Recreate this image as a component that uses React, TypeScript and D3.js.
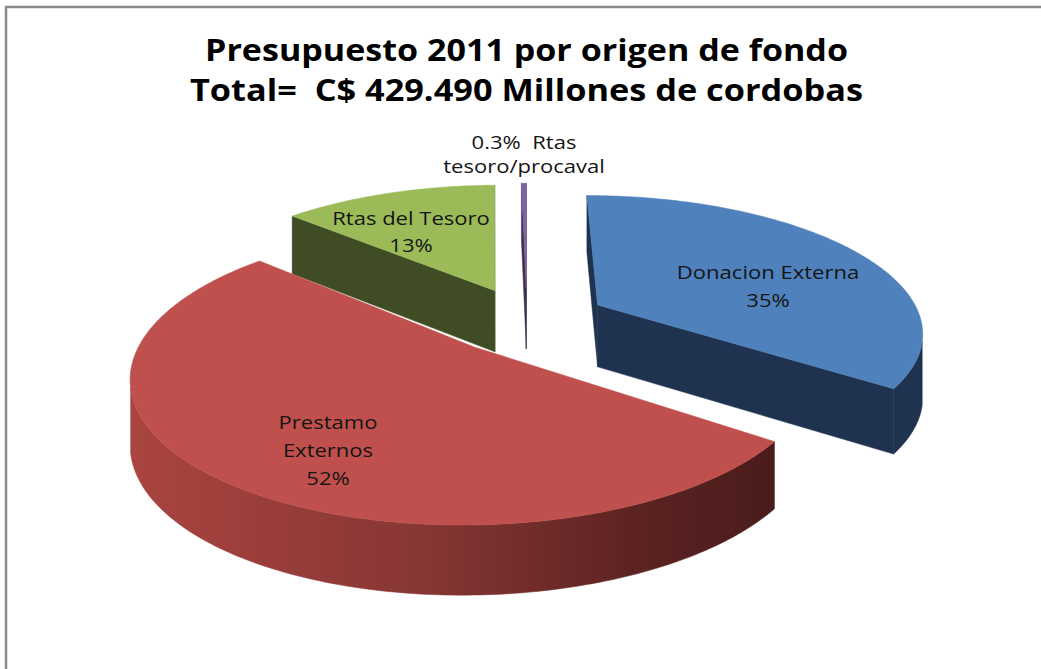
//@ts-nocheck
import React, { useRef, useEffect } from 'react'
import * as d3 from 'd3'

const categories = ['Donacion Externa', 'Prestamo Externos', 'Rtas del Tesoro', 'Rtas tesoro/procaval']
const shares = [35, 52, 13, 0.3]
const labelLines = [
  ['Donacion Externa', '35%'],
  ['Prestamo', 'Externos', '52%'],
  ['Rtas del Tesoro', '13%'],
  ['0.3%  Rtas', 'tesoro/procaval']
]
const titleLines = ['Presupuesto 2011 por origen de fondo', 'Total=  C$ 429.490 Millones de cordobas']

const topColors = ['#4F81BD', '#C0504D', '#9BBB59', '#8064A2']
const sideColors = ['#1F3350', 'url(#redSide)', '#3F4C24', '#3F3151']

// layout (label anchors are screen positions of the first line)
const labelPos = [
  [768, 272],
  [328, 422],
  [411, 218],
  [524, 142]
]
const labelGap = [28, 28, 27, 24]

const W = 1041
const H = 669
const cx = 527
const cy = 320
const S = 324
const K = 5
const KD = 10
const tilt = (24.5 * Math.PI) / 180
const depth = 0.212
const explode = 0.25

// perspective projection of a point on the pie (radius 1), Y up, Z away from viewer
function project(X, Y, Z) {
  const den = K + Z * Math.cos(tilt)
  const sx = cx + (S * K * X) / den
  const sy = cy - (S * K * Z * Math.sin(tilt)) / den - (S * Y * Math.cos(tilt) * KD) / (KD + Z * Math.cos(tilt))
  return [sx, sy]
}

const App = () => {
  const node = useRef(null)

  useEffect(() => {
    const svg = d3.select(node.current)
    svg.selectAll('*').remove()

    const grad = svg
      .append('defs')
      .append('linearGradient')
      .attr('id', 'redSide')
      .attr('gradientUnits', 'userSpaceOnUse')
      .attr('x1', 135)
      .attr('x2', 775)
      .attr('y1', 0)
      .attr('y2', 0)
    const stops = [
      [0, '#A9443F'],
      [0.45, '#873634'],
      [0.8, '#5A2221'],
      [1, '#4A1C1B']
    ]
    stops.forEach(([o, c]) => grad.append('stop').attr('offset', o).attr('stop-color', c))

    // frame
    svg
      .append('path')
      .attr('d', `M6,${H} V7 H${W}`)
      .attr('fill', 'none')
      .attr('stroke', '#8a8a8a')
      .attr('stroke-width', 2.5)

    const arcs = d3.pie().sort(null).startAngle(0).endAngle(2 * Math.PI)(shares)
    const line = d3.line()
    const camZ = -K * Math.cos(tilt)

    const slices = arcs.map((a, i) => {
      const mid = (a.startAngle + a.endAngle) / 2
      return { ...a, i, mid, ox: explode * Math.sin(mid), oz: explode * Math.cos(mid) }
    })
    slices.sort((p, q) => q.oz + 0.5 * Math.cos(q.mid) - (p.oz + 0.5 * Math.cos(p.mid)))

    const g = svg.append('g')

    slices.forEach((s) => {
      const rim = (t, Y) => project(s.ox + Math.sin(t), Y, s.oz + Math.cos(t))
      const apex = (Y) => project(s.ox, Y, s.oz)
      const a0 = s.startAngle
      const a1 = s.endAngle
      const n = Math.max(4, Math.ceil(((a1 - a0) / (2 * Math.PI)) * 360))
      const ts = d3.range(n + 1).map((j) => a0 + ((a1 - a0) * j) / n)
      const side = sideColors[s.i]

      // radial faces
      const v0 = s.ox * Math.cos(a0) - Math.sin(a0) * (-camZ + s.oz) > 0
      const v1 = -s.ox * Math.cos(a1) + Math.sin(a1) * (-camZ + s.oz) > 0
      ;[
        [a0, v0],
        [a1, v1]
      ].forEach(([a, vis]) => {
        if (!vis) return
        g.append('path')
          .attr('d', line([apex(0), rim(a, 0), rim(a, -depth), apex(-depth)]) + 'Z')
          .attr('fill', side)
          .attr('stroke', side)
          .attr('stroke-width', 0.5)
      })

      // outer curved side, only the part facing the camera
      const visible = (t) => -s.ox * Math.sin(t) - s.oz * Math.cos(t) - 1 + camZ * Math.cos(t) > 0
      let run = []
      const runs = []
      ts.forEach((t) => {
        if (visible(t)) run.push(t)
        else if (run.length) {
          runs.push(run)
          run = []
        }
      })
      if (run.length) runs.push(run)
      runs.forEach((r) => {
        if (r.length < 2) return
        const pts = r.map((t) => rim(t, 0)).concat(r.slice().reverse().map((t) => rim(t, -depth)))
        g.append('path')
          .attr('d', line(pts) + 'Z')
          .attr('fill', side)
          .attr('stroke', side)
          .attr('stroke-width', 0.5)
      })

      // top face
      const top = [apex(0)].concat(ts.map((t) => rim(t, 0)))
      g.append('path')
        .attr('d', line(top) + 'Z')
        .attr('fill', topColors[s.i])
        .attr('stroke', topColors[s.i])
        .attr('stroke-width', 0.5)
        .append('title')
        .text(categories[s.i])
    })

    // data labels (the source picture is stretched horizontally)
    labelLines.forEach((lines, i) => {
      const t = svg
        .append('text')
        .attr('transform', `translate(${labelPos[i][0]},0) scale(1.16,1)`)
        .attr('text-anchor', 'middle')
        .attr('font-family', '"Open Sans", sans-serif')
        .attr('font-size', 19)
        .attr('fill', '#151515')
      lines.forEach((l, j) => {
        t.append('tspan')
          .attr('x', 0)
          .attr('y', labelPos[i][1] + 7 + j * labelGap[i])
          .style('white-space', 'pre')
          .text(l)
      })
    })

    // title
    const widths = [643, 673]
    titleLines.forEach((l, j) => {
      svg
        .append('text')
        .attr('x', 526.5)
        .attr('y', 61 + j * 40)
        .attr('text-anchor', 'middle')
        .attr('font-family', '"Open Sans", sans-serif')
        .attr('font-weight', 'bold')
        .attr('font-size', 30)
        .attr('textLength', widths[j])
        .attr('lengthAdjust', 'spacingAndGlyphs')
        .style('white-space', 'pre')
        .attr('fill', '#000')
        .text(l)
    })
  }, [node])

  return <svg ref={node} width={W} height={H} style={{ position: 'absolute', left: 0, top: 0, background: '#fff' }} />
}

export default App
